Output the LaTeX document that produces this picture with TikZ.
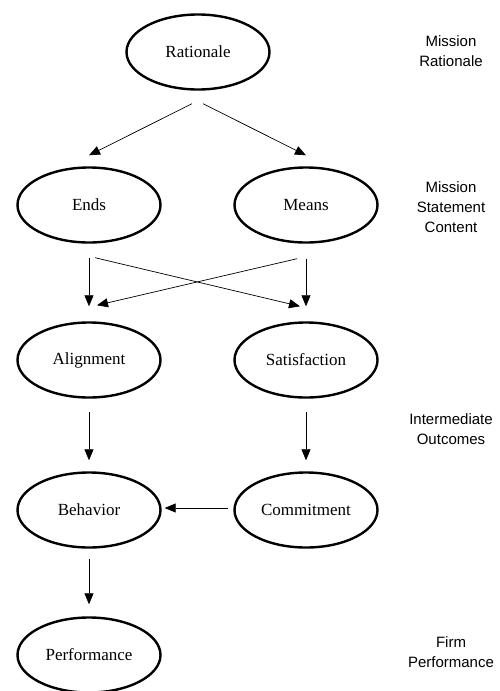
\documentclass[tikz,border=0pt]{standalone}
\usepackage{fontspec}
\setmainfont{Liberation Serif}
\newfontfamily\labfont{Liberation Sans}
\usetikzlibrary{shapes.geometric,arrows.meta,calc}
\begin{document}
\begin{tikzpicture}[x=1pt,y=-1pt,
  oval/.style={ellipse, draw, line width=2.4pt, minimum width=143pt, minimum height=75pt, inner sep=0pt, font=\fontsize{17}{20}\selectfont},
  lab/.style={align=center, font=\labfont\fontsize{15}{20}\selectfont},
  arr/.style={line width=0.7pt, -{Triangle[length=11pt,width=9pt]}}]
\useasboundingbox (0,0) rectangle (499,691);
\node[oval] (rat) at (198,52) {Rationale};
\node[oval] (ends) at (89,205) {Ends};
\node[oval] (means) at (306,205) {Means};
\node[oval] (align) at (89,360) {Alignment};
\node[oval] (sat) at (306,360) {Satisfaction};
\node[oval] (beh) at (89,510) {Behavior};
\node[oval] (com) at (306,510) {Commitment};
\node[oval] (perf) at (89,655) {Performance};
\node[lab] (l1) at (451,51) {Mission\\Rationale};
\node[lab] (l2) at (451,207) {Mission\\Statement\\Content};
\node[lab] (l3) at (451,429) {Intermediate\\Outcomes};
\node[lab] (l4) at (451,652) {Firm\\Performance};
\draw[arr] ($(rat.south)+(-6,13)$) -- ($(ends.north)+(0,-11)$);
\draw[arr] ($(rat.south)+(5,13)$) -- ($(means.north)+(0,-11)$);
\draw[arr] ($(ends.south)+(0,14)$) -- ($(align.north)+(0,-15)$);
\draw[arr] ($(means.south)+(0,15)$) -- ($(sat.north)+(0,-15)$);
\draw[arr] ($(ends.south)+(6,14)$) -- ($(sat.north)+(-6,-15)$);
\draw[arr] ($(means.south)+(-9,15)$) -- ($(align.north)+(8,-16)$);
\draw[arr] ($(align.south)+(0,13)$) -- ($(beh.north)+(0,-11)$);
\draw[arr] ($(sat.south)+(0,13)$) -- ($(com.north)+(0,-11)$);
\draw[arr] ($(com.west)+(-5,-2)$) -- ($(beh.east)+(3,-2)$);
\draw[arr] ($(beh.south)+(0,10)$) -- ($(perf.north)+(0,-12)$);
\end{tikzpicture}
\end{document}
